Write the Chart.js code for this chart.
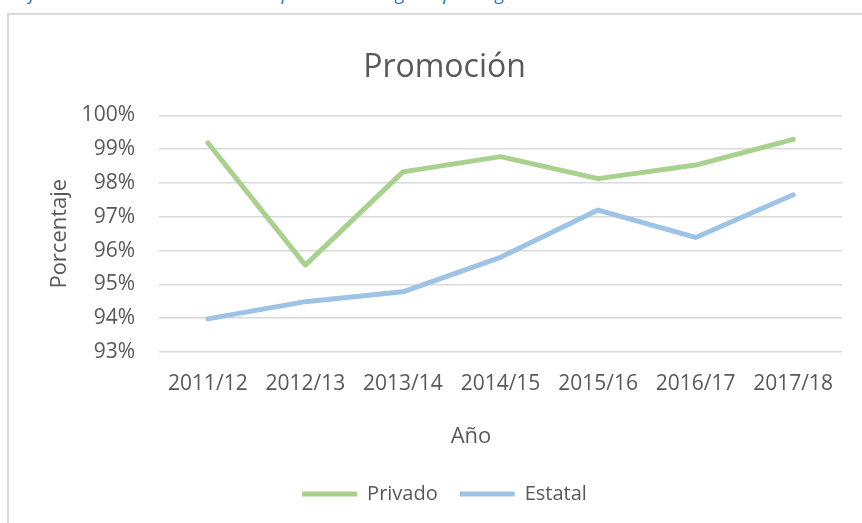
<!DOCTYPE html>
<html lang="es">
<head>
<meta charset="utf-8">
<title>Promoción</title>
<script src="https://cdn.jsdelivr.net/npm/chart.js@4.4.1/dist/chart.umd.min.js"></script>
<style>
  html, body { margin: 0; padding: 0; background: #fff; overflow: hidden; }
  body { width: 862px; height: 523px; position: relative; }
  #caption {
    position: absolute; left: -2px; top: -20px; white-space: nowrap;
    font: italic 19px "Open Sans", sans-serif; color: #2e75b6;
  }
  #frame {
    position: absolute; left: 7px; top: 13px; width: 900px; height: 560px;
    border: 2px solid #dadada; box-sizing: border-box;
  }
  #wrap { position: absolute; left: 0; top: 0; width: 862px; height: 523px; }
</style>
</head>
<body>
<div id="caption">Gráfico 4: Evolución de la tasa de promoción según tipo de gestión</div>
<div id="frame"></div>
<div id="wrap"><canvas id="chart"></canvas></div>
<script>
  const years = ['2011/12', '2012/13', '2013/14', '2014/15', '2015/16', '2016/17', '2017/18'];
  const privado = [99.19, 95.57, 98.33, 98.78, 98.13, 98.53, 99.29];
  const estatal = [93.98, 94.49, 94.78, 95.80, 97.20, 96.39, 97.65];
  const yMin = 93, yMax = 100, yStep = 1;

  const GREEN = '#a9d18e';
  const BLUE = '#9dc3e6';
  const TEXT = '#595959';
  const FONT = "'Open Sans', sans-serif";

  // x axis title sits left of the plot centre in the original, so it is drawn here
  const xTitle = {
    id: 'xTitle',
    afterDraw(chart) {
      const ctx = chart.ctx;
      ctx.save();
      ctx.font = '22px ' + FONT;
      ctx.fillStyle = TEXT;
      ctx.textAlign = 'center';
      ctx.textBaseline = 'middle';
      ctx.fillText('Año', 471, chart.chartArea.bottom + 85);
      ctx.restore();
    }
  };

  new Chart(document.getElementById('chart'), {
    type: 'line',
    data: {
      labels: years,
      datasets: [
        { label: 'Privado', data: privado, borderColor: GREEN, backgroundColor: GREEN, borderWidth: 5 },
        { label: 'Estatal', data: estatal, borderColor: BLUE, backgroundColor: BLUE, borderWidth: 5 }
      ]
    },
    options: {
      responsive: true,
      maintainAspectRatio: false,
      animation: false,
      layout: { padding: { left: 47, right: 20, top: 0, bottom: 9 } },
      elements: {
        line: { tension: 0, borderCapStyle: 'round', borderJoinStyle: 'round' },
        point: { radius: 0, hoverRadius: 0 }
      },
      plugins: {
        title: {
          display: true, text: 'Promoción', color: TEXT,
          font: { family: FONT, size: 32, weight: 'normal' },
          padding: { top: 49, bottom: 28 }
        },
        legend: {
          position: 'bottom',
          labels: {
            color: TEXT, font: { family: FONT, size: 20 },
            usePointStyle: true, pointStyle: 'line', pointStyleWidth: 55,
            padding: 22
          }
        },
        tooltip: { enabled: false }
      },
      scales: {
        x: {
          offset: true,
          grid: { display: false },
          border: { display: false },
          ticks: { color: TEXT, font: { family: FONT, size: 21 }, padding: 11, maxRotation: 0 },
          afterFit(scale) { scale.height = 110; }
        },
        y: {
          min: yMin, max: yMax,
          grid: { color: '#d9d9d9', lineWidth: 1.5, drawTicks: false },
          border: { display: false },
          ticks: {
            stepSize: yStep, color: TEXT, font: { family: FONT, size: 21 }, padding: 24,
            callback: (v) => v + '%'
          },
          title: {
            display: true, text: 'Porcentaje', color: TEXT,
            font: { family: FONT, size: 22 }, padding: 0
          },
          afterFit(scale) { scale.width = 112; }
        }
      }
    },
    plugins: [xTitle]
  });
</script>
</body>
</html>
